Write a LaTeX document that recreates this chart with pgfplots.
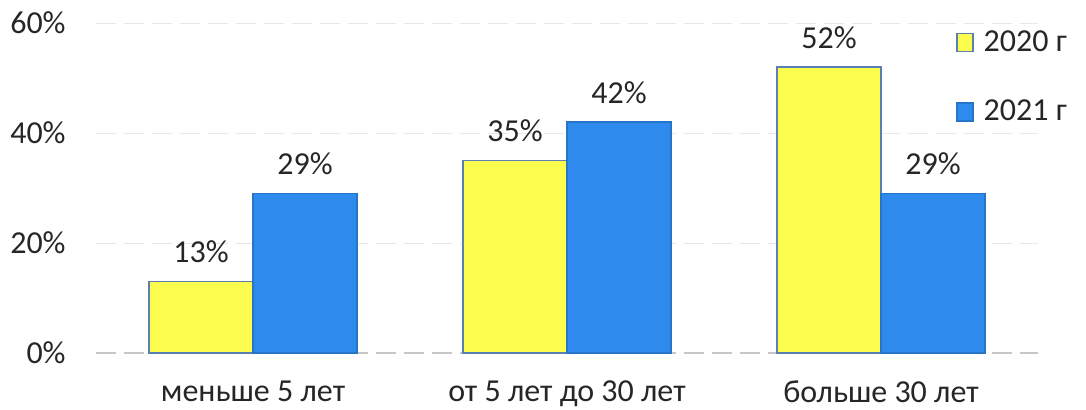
\documentclass[border=0pt]{standalone}
\usepackage{pgfplots}
\pgfplotsset{compat=1.18}
\usepackage{fontspec}
\setmainfont{Carlito}
\definecolor{barY}{HTML}{FCFC4E}
\definecolor{barB}{HTML}{2E8AEC}
\definecolor{edgeY}{HTML}{5A7FB0}
\definecolor{txt}{HTML}{262626}
\begin{document}
\begin{tikzpicture}
\useasboundingbox (0pt,0pt) rectangle (543pt,204.5pt);
\begin{axis}[
  at={(48pt,28pt)}, anchor=south west,
  scale only axis, width=471pt, height=165pt,
  xmin=-0.5, xmax=2.5, ymin=0, ymax=60,
  ybar=0pt, bar width=52pt,
  axis line style={draw=none},
  major tick style={draw=none},
  xtick={0,1,2},
  xticklabels={меньше 5 лет, от 5 лет до 30 лет, больше 30 лет},
  ytick={20,40,60},
  extra y ticks={0},
  extra y tick style={grid style={color=gray!45, line width=0.6pt}},
  yticklabel={\pgfmathprintnumber{\tick}\%},
  /pgf/number format/assume math mode=true,
  ymajorgrids,
  grid style={color=gray!18, line width=0.5pt, dash pattern=on 10pt off 4pt},
  tick label style={font=\fontsize{16}{19}\selectfont, text=txt},
  yticklabel style={anchor=east, inner sep=0pt, xshift=-15pt},
  xticklabel style={anchor=north, inner sep=0pt, yshift=-9.5pt},
  nodes near coords={\pgfmathprintnumber{\pgfplotspointmeta}\%},
  every node near coord/.append style={font=\fontsize{16}{19}\selectfont, text=txt, inner sep=0pt, anchor=south, yshift=9pt},
  legend style={at={(0.913,0.985)}, anchor=north west, draw=none, fill=none,
    font=\fontsize{16}{19}\selectfont, text=txt, row sep=21pt, column sep=4pt, inner sep=0pt,
    nodes={inner sep=1pt}},
  legend cell align=left,
  legend image code/.code={\draw[#1] (0pt,-4.5pt) rectangle (8pt,4.5pt);},
]
\addplot[fill=barY, draw=edgeY, line width=0.6pt] coordinates {(0,13) (1,35) (2,52)};
\addplot[fill=barB, draw=barB!85!black, line width=0.6pt] coordinates {(0,29) (1,42) (2,29)};
\legend{2020 г, 2021 г}
\end{axis}
\end{tikzpicture}
\end{document}
